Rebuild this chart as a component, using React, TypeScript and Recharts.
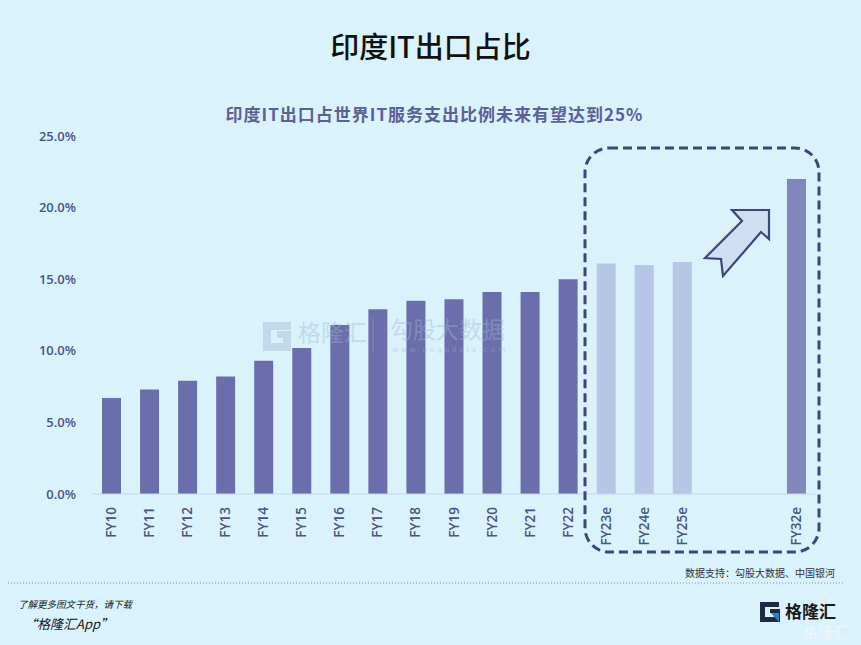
import { Bar, BarChart, Cell, XAxis, YAxis } from 'recharts'

const categories = [
  'FY10', 'FY11', 'FY12', 'FY13', 'FY14', 'FY15', 'FY16', 'FY17', 'FY18', 'FY19',
  'FY20', 'FY21', 'FY22', 'FY23e', 'FY24e', 'FY25e', '_gap1', '_gap2', 'FY32e',
]
const shares = [
  6.7, 7.3, 7.9, 8.2, 9.3, 10.2, 11.8, 12.9, 13.5, 13.6,
  14.1, 14.1, 15.0, 16.1, 16.0, 16.2, null, null, 22.0,
]
const kinds = [
  'actual', 'actual', 'actual', 'actual', 'actual', 'actual', 'actual', 'actual', 'actual', 'actual',
  'actual', 'actual', 'actual', 'estimate', 'estimate', 'estimate', 'gap', 'gap', 'target',
]
const yTicks = [0, 5, 10, 15, 20, 25]

const COLORS: Record<string, string> = {
  actual: '#6c6eac',
  estimate: '#b5c7e4',
  target: '#8286ba',
  gap: 'transparent',
}
const BG = '#d9f2fc'
const AXIS_TEXT = '#4b5384'
const NAVY = '#3e4679'
const CJK = "'Noto Sans CJK SC', sans-serif"

const data = categories.map((name, i) => ({ name, value: shares[i], kind: kinds[i] }))

function XTick({ x, y, payload }: any) {
  const label: string = payload?.value ?? ''
  if (label.startsWith('_')) return null
  return (
    <g transform={`translate(${x},${y})`}>
      <text
        transform="rotate(-90)"
        x={-11}
        y={5}
        textAnchor="end"
        fill={AXIS_TEXT}
        fontSize={13.5}
        fontWeight={600}
        fontFamily="'Open Sans', sans-serif"
      >
        {label}
      </text>
    </g>
  )
}

function Overlay() {
  return (
    <svg width={861} height={645} style={{ position: 'absolute', left: 0, top: 0, pointerEvents: 'none' }}>
      {/* watermark */}
      <g opacity={0.4} fill="#9fb6cf" fontFamily={CJK}>
        <path d="M263 322 h28 v8 h-20 v13 h12 v-5 h-6 v-7 h14 v20 h-28 z" />
        <text x={298} y={341} fontSize={23}>格隆汇</text>
        <line x1={373} y1={318} x2={373} y2={352} stroke="#9fb6cf" strokeWidth={1} />
        <text x={390} y={338} fontSize={23}>勾股大数据</text>
        <text x={392} y={352} fontSize={7.5} letterSpacing={2.6} fontFamily="'DejaVu Sans', sans-serif">www.gogudata.com</text>
      </g>
      {/* dashed box around forecasts */}
      <rect x={585} y={148} width={234} height={404} rx={24} ry={24} fill="none" stroke={NAVY} strokeWidth={3} strokeDasharray="9 5" />
      {/* arrow */}
      <polygon
        points="769,210 769,239 761,232 723,276 721,259 705,258 742,221 732,210"
        fill="#cddff0"
        stroke={NAVY}
        strokeWidth={2.2}
        strokeLinejoin="miter"
      />
      {/* footer rule */}
      <line x1={8} y1={583} x2={843} y2={583} stroke="#8a9299" strokeWidth={1} strokeDasharray="1 2" />
      {/* logo */}
      <path d="M760 602 h19 v5 h-14 v10 h9 v-4 h-4 v-4 h10 v13 h-20 z" fill="#1f2a44" />
      <polygon points="771,613 779,613 779,622" fill="#2f7fd0" />
    </svg>
  )
}

export default function App() {
  return (
    <div style={{ position: 'relative', width: 861, height: 645, background: BG, overflow: 'hidden' }}>
      <style>{'body{margin:0}'}</style>
      <div
        style={{
          position: 'absolute', left: 0, top: 24, width: 861, textAlign: 'center',
          fontFamily: CJK, fontSize: 29, fontWeight: 500, color: '#111',
        }}
      >
        印度IT出口占比
      </div>
      <div
        style={{
          position: 'absolute', left: 0, top: 101, width: 861, textAlign: 'center', paddingLeft: 4,
          fontFamily: CJK, fontSize: 17, fontWeight: 700, color: '#5b6097', letterSpacing: 1,
        }}
      >
        印度IT出口占世界IT服务支出比例未来有望达到25%
      </div>
      <div style={{ position: 'absolute', left: 0, top: 0 }}>
        <BarChart width={861} height={645} data={data} margin={{ top: 136, right: 46, left: 0, bottom: 101 }}>
          <XAxis
            dataKey="name"
            interval={0}
            tickLine={false}
            tickSize={0}
            height={50}
            stroke="#c3d8e8"
            tick={<XTick />}
          />
          <YAxis
            domain={[0, 25]}
            ticks={yTicks}
            width={92}
            axisLine={false}
            tickLine={false}
            tickSize={0}
            tickMargin={16}
            tickFormatter={(v: number) => `${v.toFixed(1)}%`}
            tick={{ fill: AXIS_TEXT, fontSize: 13, fontWeight: 600, fontFamily: "'Open Sans', sans-serif" }}
          />
          <Bar dataKey="value" barSize={19} isAnimationActive={false}>
            {data.map((d) => (
              <Cell key={d.name} fill={COLORS[d.kind]} />
            ))}
          </Bar>
        </BarChart>
      </div>
      <Overlay />
      <div
        style={{
          position: 'absolute', right: 26, top: 565, fontSize: 10, color: '#333', fontFamily: CJK,
        }}
      >
        数据支持：勾股大数据、中国银河
      </div>
      <div
        style={{
          position: 'absolute', left: 18, top: 597, fontSize: 9.5, fontStyle: 'italic', color: '#222', fontFamily: CJK,
        }}
      >
        了解更多图文干货，请下载
      </div>
      <div
        style={{
          position: 'absolute', left: 24, top: 614, fontSize: 13, fontStyle: 'italic', color: '#111', fontFamily: CJK,
        }}
      >
        “格隆汇App”
      </div>
      <div
        style={{
          position: 'absolute', left: 785, top: 602, fontSize: 17, lineHeight: 1, fontWeight: 700, color: '#1a1a1a',
          fontFamily: CJK,
        }}
      >
        格隆汇
      </div>
      <div
        style={{
          position: 'absolute', left: 803, top: 624, fontSize: 15, lineHeight: 1, color: '#f4f8fb', opacity: 0.8,
          fontFamily: CJK,
        }}
      >
        格隆汇
      </div>
    </div>
  )
}
